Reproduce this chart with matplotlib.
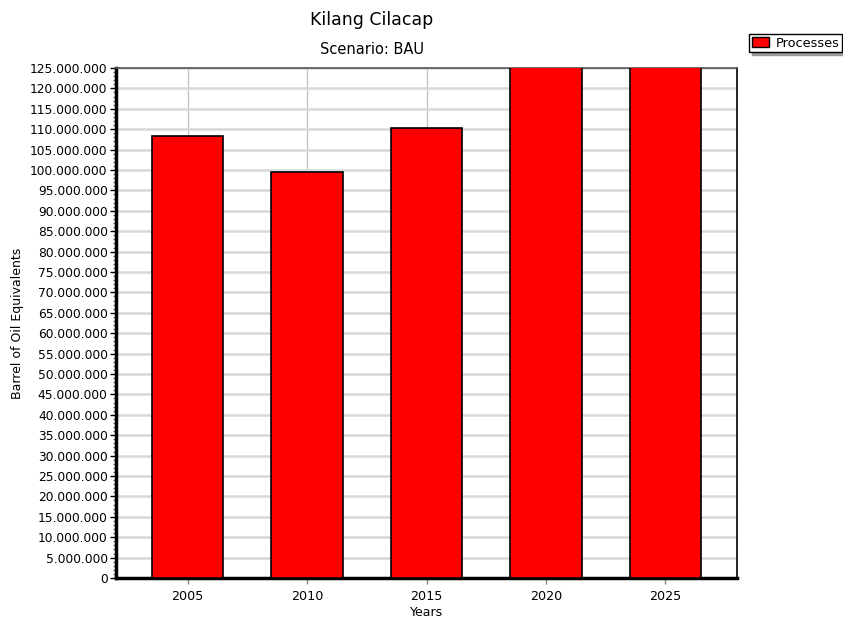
import matplotlib.pyplot as plt
from matplotlib.ticker import MultipleLocator, FuncFormatter
from matplotlib.patches import Patch

# Data
years = ["2005", "2010", "2015", "2020", "2025"]
processes = [108.3e6, 99.5e6, 110.2e6, 128.0e6, 128.0e6]

BAR_COLOR = "#ff0000"

fig = plt.figure(figsize=(8.43, 6.24), dpi=100)
ax = fig.add_axes([116 / 843, 1 - 578 / 624, (737 - 116) / 843, (578 - 68) / 624])

x = range(len(years))
ax.bar(x, processes, width=0.6, color=BAR_COLOR, edgecolor="black", linewidth=1.2, zorder=3)

ax.set_xlim(-0.6, 4.6)
ax.set_ylim(0, 125e6)
ax.set_xticks(list(x))
ax.set_xticklabels(years, fontsize=9.2)

ax.yaxis.set_major_locator(MultipleLocator(5e6))
ax.yaxis.set_minor_locator(MultipleLocator(1e6))
ax.yaxis.set_major_formatter(FuncFormatter(lambda v, p: f"{int(v):,}".replace(",", ".")))
ax.tick_params(axis="y", labelsize=8.8, length=4, width=1, pad=2)
ax.tick_params(axis="y", which="minor", length=2, width=1, color="#666666")
ax.tick_params(axis="x", length=4, width=1, color="#888888", pad=5)

# Grid
ax.grid(axis="y", color="#d8d8d8", linewidth=1.8, zorder=0)
ax.grid(axis="x", color="#c0c0c0", linewidth=0.9, zorder=0)

# Spines
ax.spines["left"].set_linewidth(2.5)
ax.spines["bottom"].set_linewidth(2.5)
ax.spines["top"].set_color("#555555")
ax.spines["top"].set_linewidth(1.2)
ax.spines["right"].set_linewidth(1.2)

ax.set_ylabel("Barrel of Oil Equivalents", fontsize=9)
ax.yaxis.set_label_coords(-92 / 621, 0.5)
ax.set_xlabel("Years", fontsize=9, labelpad=2)

# Titles
fig.text(372 / 843, 1 - 20 / 624, "Kilang Cilacap", ha="center", va="center", fontsize=12.5)
fig.text(372 / 843, 1 - 50 / 624, "Scenario: BAU", ha="center", va="center", fontsize=10.5)

# Legend
handles = [Patch(facecolor=BAR_COLOR, edgecolor="black", label="Processes")]
fig.legend(handles=handles, loc="upper right", bbox_to_anchor=(1.0, 1 - 33 / 624),
           fontsize=9.3, fancybox=False, shadow={"color": "#999999", "alpha": 1},
           edgecolor="black", handlelength=1.3, handleheight=0.8, borderpad=0.2,
           handletextpad=0.5, borderaxespad=0.1, framealpha=1)

fig.savefig("out.png", dpi=100)
